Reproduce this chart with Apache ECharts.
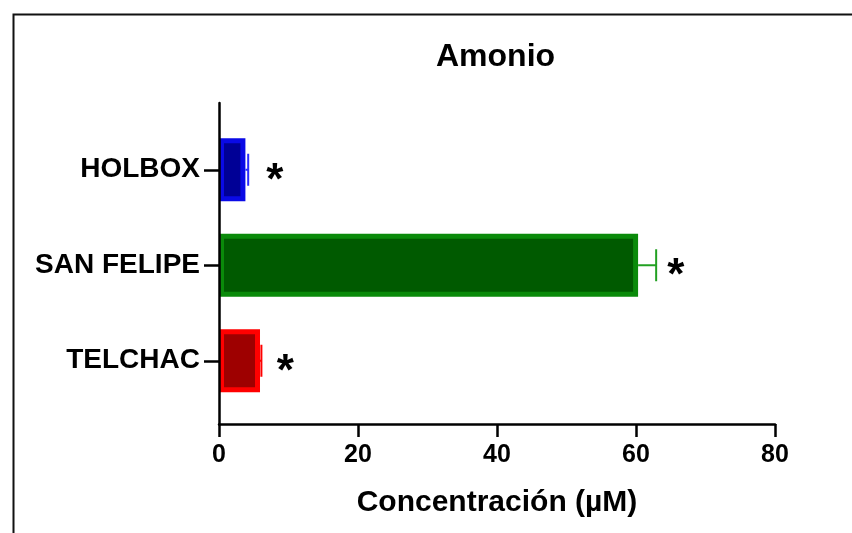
<!DOCTYPE html>
<html>
<head>
<meta charset="utf-8">
<script src="https://cdn.jsdelivr.net/npm/echarts@6/dist/echarts.min.js"></script>
<style>
html,body{margin:0;padding:0;background:#fff;}
#chart{width:852px;height:533px;}
</style>
</head>
<body>
<div id="chart"></div>
<script>
// ---- data ----
const categories = ['HOLBOX', 'SAN FELIPE', 'TELCHAC'];
const means = [3.8, 60.3, 5.9];
const errorHigh = [4.2, 62.9, 6.1];
const starPos = [6.8, 64.5, 8.3];
const xTicks = [0, 20, 40, 60, 80];
const titleText = 'Amonio';
const xName = 'Concentración (µM)';

// ---- styles ----
const fills = ['#000096', '#005a00', '#9e0000'];
const borders = ['#0a0ae6', '#0a8a0a', '#ff0000'];
const errColors = ['#2a2aff', '#22a022', '#ff0000'];
const FONT = 'Liberation Sans, Arial, Helvetica, sans-serif';

const chart = echarts.init(document.getElementById('chart'), null, {renderer: 'canvas'});

const barData = means.map((v, i) => ({
  value: v,
  itemStyle: {color: fills[i], borderColor: borders[i], borderWidth: 5}
}));
const errData = means.map((v, i) => [v, i, errorHigh[i], starPos[i]]);

function renderErr(params, api) {
  const i = api.value(1);
  const v = api.value(0), hi = api.value(2), st = api.value(3);
  const p0 = api.coord([v, i]);
  const p1 = api.coord([hi, i]);
  const ps = api.coord([st, i]);
  const c = errColors[params.dataIndex];
  const half = 16;
  return {
    type: 'group',
    children: [
      {type: 'line', shape: {x1: p0[0], y1: p0[1], x2: p1[0], y2: p1[1]}, style: {stroke: c, lineWidth: 2}},
      {type: 'line', shape: {x1: p1[0], y1: p1[1] - half, x2: p1[0], y2: p1[1] + half}, style: {stroke: c, lineWidth: 2}},
      {type: 'text', x: ps[0], y: ps[1] + 12,
       style: {text: '*', fill: '#000', fontSize: 44, fontWeight: 'bold', fontFamily: FONT, align: 'left', verticalAlign: 'middle'}}
    ]
  };
}

const option = {
  backgroundColor: '#fff',
  animation: false,
  title: {
    text: titleText,
    left: 436, top: 41, padding: 0,
    textStyle: {fontSize: 32, fontWeight: 'bold', color: '#000', fontFamily: FONT}
  },
  graphic: [{
    type: 'rect', left: 11, top: 12,
    shape: {width: 1000, height: 1000},
    style: {fill: 'none', stroke: '#111', lineWidth: 2},
    silent: true
  }],
  grid: [
    {left: 219, right: 77, top: 122, height: 286.5},
    {left: 219, right: 77, top: 103, bottom: 109}
  ],
  xAxis: [
    {gridIndex: 0, type: 'value', min: 0, max: 80, interval: 20, show: false},
    {
      gridIndex: 1, type: 'value', min: 0, max: 80, interval: 20,
      z: 10,
      axisLine: {show: true, lineStyle: {color: '#000', width: 2.5}},
      axisTick: {show: true, length: 13, lineStyle: {color: '#000', width: 2.5}},
      axisLabel: {margin: 19, fontSize: 25, fontWeight: 'bold', color: '#000', fontFamily: FONT,
                  formatter: (v) => String(xTicks[xTicks.indexOf(v)])},
      splitLine: {show: false},
      name: xName, nameLocation: 'middle', nameGap: 64,
      nameTextStyle: {fontSize: 30, fontWeight: 'bold', color: '#000', fontFamily: FONT}
    }
  ],
  yAxis: [
    {
      gridIndex: 0, type: 'category', data: categories, inverse: true,
      axisLine: {show: false},
      axisTick: {show: true, alignWithLabel: true, length: 15, lineStyle: {color: '#000', width: 2.5}},
      axisLabel: {margin: 19, fontSize: 28, fontWeight: 'bold', color: '#000', fontFamily: FONT},
      splitLine: {show: false}
    },
    {
      gridIndex: 1, type: 'value', min: 0, max: 1, z: 10,
      axisLine: {show: true, lineStyle: {color: '#000', width: 2.5}},
      axisTick: {show: false}, axisLabel: {show: false}, splitLine: {show: false}
    }
  ],
  series: [
    {
      type: 'bar', xAxisIndex: 0, yAxisIndex: 0,
      barWidth: '66%',
      data: barData
    },
    {
      type: 'custom', xAxisIndex: 0, yAxisIndex: 0,
      renderItem: renderErr,
      encode: {x: 0, y: 1},
      clip: false,
      z: 3,
      data: errData
    }
  ]
};
chart.setOption(option);
</script>
</body>
</html>
